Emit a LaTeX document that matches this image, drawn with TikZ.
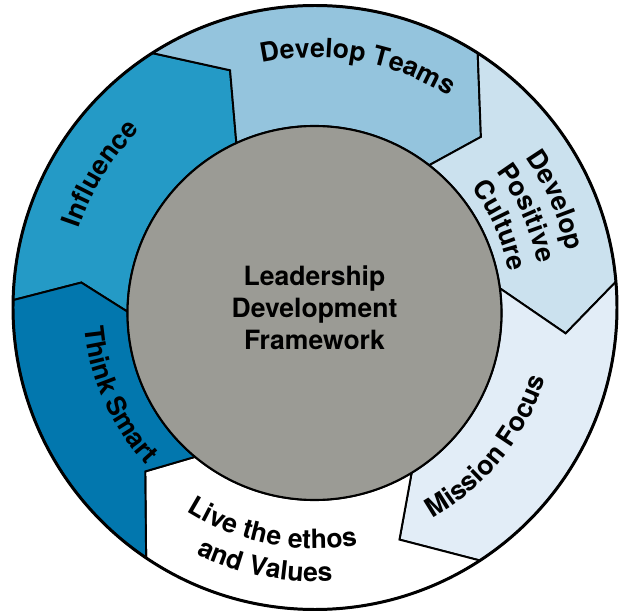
\documentclass[tikz,border=0pt]{standalone}
\usepackage{fontspec}
\setmainfont{TeX Gyre Heros}
\usetikzlibrary{decorations.text}

\definecolor{influence}{RGB}{36,154,198}
\definecolor{thinksmart}{RGB}{2,119,174}
\definecolor{teams}{RGB}{148,196,221}
\definecolor{culture}{RGB}{203,225,238}
\definecolor{mission}{RGB}{226,237,247}
\definecolor{hub}{RGB}{155,155,149}

\newcommand{\segfont}{\fontsize{15.1}{18.2}\selectfont\bfseries}

\tikzset{
  seg/.style={draw=black, line width=1.1pt},
  arclabel/.style={decorate, decoration={text along path, text align=center,
      text={|\segfont|#1}}}
}

\begin{document}
\begin{tikzpicture}[x=0.02cm, y=0.02cm]
			\useasboundingbox (0,0) rectangle (623,613);
			
			%% centres of the ring and of the hub
			\coordinate (O) at (315,305.5);
			\coordinate (I) at (314.5,300);
			
			%% notches between the segments: outer, corner, inner
			\coordinate (o1) at ([shift={(122.6:302)}]O);
			\coordinate (c1) at ([shift={(109.7:252)}]O);
			\coordinate (i1) at ([shift={(114.7:187)}]I);
			\coordinate (o2) at ([shift={(57.4:302)}]O);
			\coordinate (c2) at ([shift={(45.8:238)}]O);
			\coordinate (i2) at ([shift={(52.2:187)}]I);
			\coordinate (o3) at ([shift={(4.9:302)}]O);
			\coordinate (c3) at ([shift={(-5.9:252)}]O);
			\coordinate (i3) at ([shift={(7.6:187)}]I);
			\coordinate (o4) at ([shift={(-56.9:302)}]O);
			\coordinate (c4) at ([shift={(-70:247)}]O);
			\coordinate (i4) at ([shift={(-58.7:187)}]I);
			\coordinate (o5) at ([shift={(-124:302)}]O);
			\coordinate (c5) at ([shift={(-136:236)}]O);
			\coordinate (i5) at ([shift={(-129.7:187)}]I);
			\coordinate (o6) at ([shift={(178.6:302)}]O);
			\coordinate (c6) at ([shift={(173.9:235)}]O);
			\coordinate (i6) at ([shift={(179.6:187)}]I);
			
			%% Influence
			\filldraw[seg, fill=influence] (o6)
			arc[start angle=178.6, end angle=122.6, radius=302] -- (c1) -- (i1)
			arc[start angle=114.7, end angle=179.6, radius=187] -- (c6) -- cycle;
			
			%% Develop Teams
			\filldraw[seg, fill=teams] (o1)
			arc[start angle=122.6, end angle=57.4, radius=302] -- (c2) -- (i2)
			arc[start angle=52.2, end angle=114.7, radius=187] -- (c1) -- cycle;
			
			%% Develop Positive Culture
			\filldraw[seg, fill=culture] (o2)
			arc[start angle=57.4, end angle=4.9, radius=302] -- (c3) -- (i3)
			arc[start angle=7.6, end angle=52.2, radius=187] -- (c2) -- cycle;
			
			%% Mission Focus
			\filldraw[seg, fill=mission] (o3)
			arc[start angle=4.9, end angle=-56.9, radius=302] -- (c4) -- (i4)
			arc[start angle=-58.7, end angle=7.6, radius=187] -- (c3) -- cycle;
			
			%% Live the ethos and Values
			\filldraw[seg, fill=white] (o4)
			arc[start angle=-56.9, end angle=-124, radius=302] -- (c5) -- (i5)
			arc[start angle=-129.7, end angle=-58.7, radius=187] -- (c4) -- cycle;
			
			%% Think Smart
			\filldraw[seg, fill=thinksmart] (o5)
			arc[start angle=-124, end angle=-181.4, radius=302] -- (c6) -- (i6)
			arc[start angle=-180.4, end angle=-129.7, radius=187] -- (c5) -- cycle;
			
			%% rim and hub
			\draw[line width=1.7pt] (O) circle[radius=302];
			\filldraw[fill=hub, line width=1.2pt] (I) circle[radius=187];
			\node[align=center, font=\segfont] (hubtext) at (314.5,305)
			{Leadership\\Development\\Framework};
			
			%% labels along the ring
			\path[arclabel=Develop Teams] ([shift={(125:250)}]O)
			arc[start angle=125, end angle=35, radius=250];
			\path[arclabel=Influence] ([shift={(188:249)}]O)
			arc[start angle=188, end angle=108, radius=249];
			\path[arclabel=Develop] ([shift={(64:258)}]O)
			arc[start angle=64, end angle=-16, radius=258];
			\path[arclabel=Positive] ([shift={(64:227)}]O)
			arc[start angle=64, end angle=-16, radius=227];
			\path[arclabel=Culture] ([shift={(64:197)}]O)
			arc[start angle=64, end angle=-16, radius=197];
			\path[arclabel=Mission Focus] ([shift={(-84:241)}]O)
			arc[start angle=-84, end angle=6, radius=241];
			\path[arclabel=Think Smart] ([shift={(164:231)}]O)
			arc[start angle=164, end angle=244, radius=231];
			\path[arclabel=Live the ethos] ([shift={(-146:241)}]O)
			arc[start angle=-146, end angle=-56, radius=241];
			\path[arclabel=and Values] ([shift={(-146:274)}]O)
			arc[start angle=-146, end angle=-56, radius=274];
		\end{tikzpicture}
\end{document}
